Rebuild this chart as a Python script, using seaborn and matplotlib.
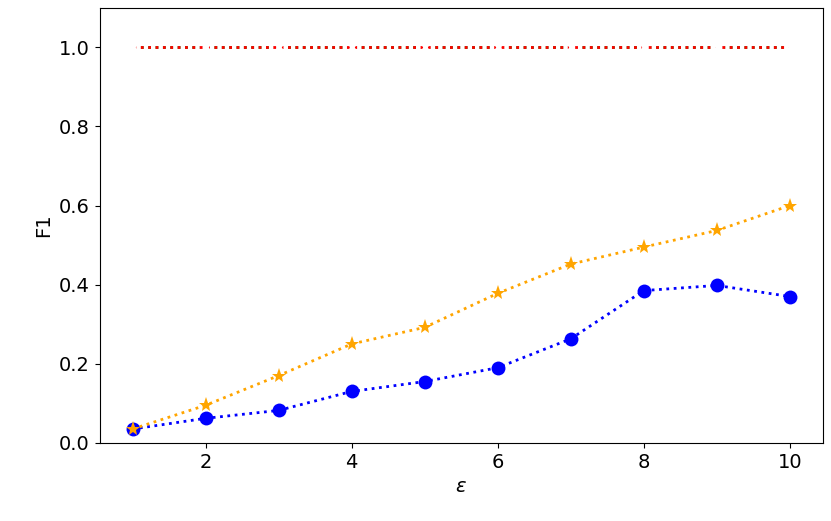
import matplotlib
matplotlib.use("Agg")
import matplotlib.pyplot as plt
import seaborn as sns
import pandas as pd

eps = [1, 2, 3, 4, 5, 6, 7, 8, 9, 10]
blue = [0.035, 0.062, 0.082, 0.130, 0.155, 0.190, 0.263, 0.385, 0.398, 0.370]
orange = [0.035, 0.095, 0.170, 0.250, 0.292, 0.378, 0.452, 0.495, 0.537, 0.600]
green = [1.0] * 10
red = [1.0] * 10

fig, ax = plt.subplots(figsize=(8.31, 5.21), dpi=100)
sns.lineplot(x=eps, y=blue, ax=ax, color="blue", linestyle=":", linewidth=2, marker="o", markersize=10, markeredgewidth=0)
sns.lineplot(x=eps, y=orange, ax=ax, color="orange", linestyle=":", linewidth=2, marker="*", markersize=11, markeredgewidth=0)
sns.lineplot(x=eps, y=green, ax=ax, color="green", linestyle=":", linewidth=2, marker="+", markersize=10, markeredgewidth=2)
sns.lineplot(x=eps, y=red, ax=ax, color="red", linestyle=":", linewidth=2, marker="x", markersize=10, markeredgewidth=2)
ax.set_ylim(0, 1.1)
ax.set_xlabel(r"$\epsilon$", fontsize=14)
ax.set_ylabel("F1", fontsize=14)
ax.tick_params(labelsize=14)
fig.subplots_adjust(left=0.12, right=0.99, top=0.985, bottom=0.15)
fig.savefig("out.png", dpi=100)
